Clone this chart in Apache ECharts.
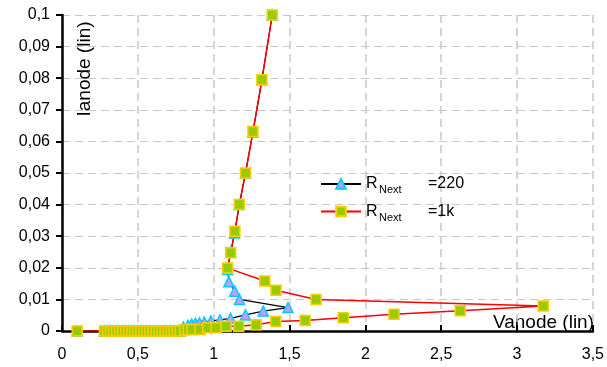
<!DOCTYPE html>
<html lang="en">
<head>
    <meta charset="UTF-8">
    <title>Ianode / Vanode</title>
    <script src="https://cdn.jsdelivr.net/npm/echarts@6/dist/echarts.min.js"></script>
    <style>
        html, body { margin: 0; padding: 0; background: #fff; }
    </style>
</head>
<body>
<div id="main" style="width:607px;height:367px;"></div>
<script>
    // R Next = 220 (triangles, black line)
    let data220 = [
        [0.10, 0],
        [0.28, 0], [0.30, 0], [0.32, 0], [0.34, 0], [0.36, 0], [0.38, 0], [0.40, 0],
        [0.42, 0], [0.44, 0], [0.46, 0], [0.48, 0], [0.50, 0], [0.52, 0], [0.54, 0],
        [0.56, 0], [0.58, 0], [0.60, 0], [0.62, 0], [0.64, 0], [0.66, 0], [0.68, 0],
        [0.70, 0], [0.72, 0], [0.74, 0], [0.76, 0], [0.78, 0],
        [0.80, 0.0012], [0.83, 0.0018], [0.855, 0.0022], [0.88, 0.0024], [0.907, 0.0026],
        [0.938, 0.0028], [0.982, 0.0032], [1.041, 0.0035], [1.111, 0.004], [1.209, 0.0051],
        [1.327, 0.0063], [1.49, 0.0074],
        [1.17, 0.010], [1.139, 0.0126], [1.10, 0.0156], [1.092, 0.0195], [1.113, 0.025],
        [1.138, 0.031], [1.169, 0.040], [1.21, 0.050], [1.259, 0.063], [1.318, 0.0795],
        [1.386, 0.1]
    ];
    // R Next = 1k (squares, red line)
    let data1k = [
        [0.10, 0],
        [0.28, 0], [0.30, 0], [0.32, 0], [0.34, 0], [0.36, 0], [0.38, 0], [0.40, 0],
        [0.42, 0], [0.44, 0], [0.46, 0], [0.48, 0], [0.50, 0], [0.52, 0], [0.54, 0],
        [0.56, 0], [0.58, 0], [0.60, 0], [0.62, 0], [0.64, 0], [0.66, 0], [0.68, 0],
        [0.70, 0], [0.72, 0], [0.74, 0], [0.76, 0], [0.78, 0],
        [0.81, 0.0004], [0.832, 0.0005], [0.858, 0.0005], [0.91, 0.0005], [0.961, 0.001],
        [1.017, 0.001], [1.082, 0.0015], [1.165, 0.0015], [1.28, 0.002], [1.41, 0.003],
        [1.603, 0.0033], [1.855, 0.0042], [2.189, 0.0053], [2.625, 0.0064], [3.173, 0.0079],
        [1.675, 0.010], [1.411, 0.0129], [1.337, 0.0158], [1.092, 0.0199], [1.112, 0.0248],
        [1.14, 0.0316], [1.169, 0.040], [1.21, 0.050], [1.259, 0.0631], [1.318, 0.0795],
        [1.386, 0.1]
    ];
    let seriesNames = ['220', '1k'];

    function comma(v) {
        return String(+v.toFixed(3)).replace('.', ',');
    }

    let myChart = echarts.init(document.getElementById('main'));
    let font = 'Liberation Sans, Arial, sans-serif';

    let option = {
        animation: false,
        grid: { left: 62, right: 12, top: 15, bottom: 36 },
        xAxis: {
            type: 'value', min: 0, max: 3.5, interval: 0.5,
            axisLine: { onZero: false, lineStyle: { color: '#000', width: 2.5 } },
            axisTick: { inside: true, length: 6, lineStyle: { color: '#000', width: 2 } },
            axisLabel: { color: '#000', fontSize: 16, fontFamily: font, margin: 16, formatter: comma },
            splitLine: { show: true, lineStyle: { color: '#c8c8c8', type: [8, 5], width: 1.5 } }
        },
        yAxis: {
            type: 'value', min: 0, max: 0.1, interval: 0.01,
            axisLine: { show: true, lineStyle: { color: '#000', width: 2.5 } },
            axisTick: { show: true, length: 6, lineStyle: { color: '#000', width: 2 } },
            axisLabel: { color: '#000', fontSize: 16, fontFamily: font, margin: 12, formatter: comma },
            splitLine: { show: true, lineStyle: { color: '#c8c8c8', type: [8, 5], width: 1.2 } }
        },
        legend: {
            orient: 'vertical', left: 320, top: 176, padding: 0,
            itemWidth: 40, itemHeight: 12, itemGap: 8,
            data: seriesNames,
            formatter: name => '{r|R}{s|Next}{v|=' + name + '}',
            textStyle: {
                color: '#000', fontFamily: font,
                rich: {
                    r: { fontSize: 16, fontFamily: font, width: 13 },
                    s: { fontSize: 11, fontFamily: font, width: 49, padding: [12, 0, 0, 0] },
                    v: { fontSize: 16, fontFamily: font }
                }
            }
        },
        graphic: [
            {
                type: 'text', x: 85, y: 69, rotation: Math.PI / 2,
                style: { text: 'Ianode (lin)', font: '19px ' + font, fill: '#000', align: 'center', verticalAlign: 'middle' }
            },
            {
                type: 'text', x: 594, y: 332,
                style: { text: 'Vanode (lin)', font: '19px ' + font, fill: '#000', align: 'right', verticalAlign: 'bottom' }
            }
        ],
        series: [
            {
                name: seriesNames[0], type: 'line', data: data220,
                symbol: 'triangle', symbolSize: 10,
                lineStyle: { color: '#000', width: 1.2 },
                itemStyle: { color: '#cc99ff', borderColor: '#00ccff', borderWidth: 1.5 }
            },
            {
                name: seriesNames[1], type: 'line', data: data1k,
                symbol: 'rect', symbolSize: 10,
                lineStyle: { color: '#ff0000', width: 1.5 },
                itemStyle: { color: '#99cc00', borderColor: '#ffcc00', borderWidth: 1.5 }
            }
        ]
    };
    myChart.setOption(option);
</script>
</body>
</html>
